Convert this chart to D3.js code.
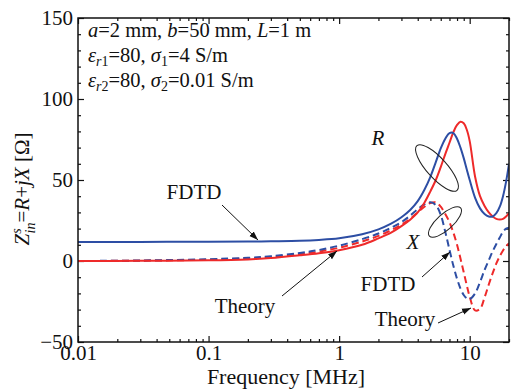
<!DOCTYPE html>
<html>
<head>
<meta charset="utf-8">
<script src="https://cdn.jsdelivr.net/npm/d3@7"></script>
<style>
  body { margin: 0; background: #fff; }
</style>
</head>
<body>
<div id="graph"></div>
<script>
// frequency points [MHz]
var freq = [0.01, 0.03, 0.1, 0.2, 0.3, 0.5, 0.7, 1, 1.5, 2, 2.5, 3, 3.5, 4, 4.5, 5, 5.5, 6, 6.5, 7, 7.5, 8, 8.5, 9, 9.5, 10, 11, 12, 13, 14, 15, 16, 17, 18, 19, 20];

// R and X, FDTD (blue) and theory (red)
var fdtdR = [11.8, 11.8, 11.9, 12.0, 12.2, 12.5, 13.0, 14.0, 16.5, 19.5, 23, 27, 31.5, 37, 44, 52, 61, 69.5, 75.5, 79, 79, 75.5, 70, 63.5, 56.5, 50, 39, 32.5, 29, 27.5, 27.5, 29.5, 33.5, 40, 49, 60];
var theoryR = [0, 0.1, 0.4, 1.0, 1.8, 3.5, 4.8, 6.7, 10, 14, 17.5, 21.5, 25.5, 30, 36, 43, 50, 58, 66, 73, 79.5, 84, 86, 85, 81, 74, 52, 40, 34, 30, 27.5, 26, 25.6, 26, 27.5, 29.5];
var fdtdX = [0, 0.3, 1.1, 2.0, 3.0, 5.0, 6.8, 9.5, 13.5, 17, 20.5, 24, 28, 32, 35, 36.2, 34.5, 28.5, 18, 7, -3, -11, -17, -21, -23, -23.5, -20, -13, -5.5, 0.5, 6, 10.5, 14.5, 18, 20, 20.5];
var theoryX = [0, 0.2, 0.8, 1.6, 2.4, 4.2, 5.8, 8.2, 12, 15.5, 19, 22.5, 26, 30, 33.5, 35.8, 36.2, 33.5, 29, 24, 17.5, 10, 1.5, -7, -15, -22, -30.5, -29.5, -22.5, -14.5, -7.5, -1.5, 3, 6.5, 9, 11];

var xMajor = [0.01, 0.1, 1, 10];
var xMajorLabels = ["0.01", "0.1", "1", "10"];
var yMajor = [-50, 0, 50, 100, 150];

var W = 511, H = 389;
var margin = { top: 18, right: 2, bottom: 47, left: 78 };

var svg = d3.select("#graph").append("svg")
  .attr("width", W).attr("height", H);

var x = d3.scaleLog().domain([0.01, 20]).range([margin.left, W - margin.right]);
var y = d3.scaleLinear().domain([-50, 150]).range([H - margin.bottom, margin.top]);

var blue = "#2d4ea4", red = "#ee2a2a";

// minor ticks
var xMinor = [];
[0.01, 0.1, 1, 10].forEach(function (d) {
  for (var k = 2; k <= 9; k++) if (d * k <= 20) xMinor.push(d * k);
});
var yMinor = d3.range(-50, 151, 10).filter(function (v) { return v % 50 != 0; });

function tickAxis(axis, tr) {
  var g = svg.append("g").attr("transform", tr).call(axis);
  g.attr("font-size", 21);
  g.select(".domain").remove();
  g.selectAll("line").attr("stroke", "#111").attr("stroke-width", 1.2);
  return g;
}

var bY = y(-50), tY = y(150), lX = x(0.01), rX = x(20);

// bottom
tickAxis(d3.axisBottom(x).tickValues(xMajor).tickFormat(function (d, i) { return xMajorLabels[i]; })
  .tickSize(-6).tickSizeOuter(0).tickPadding(3), "translate(0," + bY + ")");
tickAxis(d3.axisBottom(x).tickValues(xMinor).tickFormat("").tickSize(-3).tickSizeOuter(0), "translate(0," + bY + ")");
// top
tickAxis(d3.axisTop(x).tickValues(xMajor).tickFormat("").tickSize(-6).tickSizeOuter(0), "translate(0," + tY + ")");
tickAxis(d3.axisTop(x).tickValues(xMinor).tickFormat("").tickSize(-3).tickSizeOuter(0), "translate(0," + tY + ")");
// left
tickAxis(d3.axisLeft(y).tickValues(yMajor).tickSize(-6).tickSizeOuter(0).tickPadding(5), "translate(" + lX + ",0)");
tickAxis(d3.axisLeft(y).tickValues(yMinor).tickFormat("").tickSize(-3).tickSizeOuter(0), "translate(" + lX + ",0)");
// right
tickAxis(d3.axisRight(y).tickValues(yMajor).tickFormat("").tickSize(-6).tickSizeOuter(0), "translate(" + rX + ",0)");
tickAxis(d3.axisRight(y).tickValues(yMinor).tickFormat("").tickSize(-3).tickSizeOuter(0), "translate(" + rX + ",0)");

// clip for curves
svg.append("clipPath").attr("id", "clip").append("rect")
  .attr("x", lX).attr("y", tY).attr("width", rX - lX).attr("height", bY - tY);

var line = d3.line()
  .x(function (d) { return x(d[0]); })
  .y(function (d) { return y(d[1]); })
  .curve(d3.curveCatmullRom.alpha(0.5));

function series(vals, color, dashed) {
  svg.append("path")
    .datum(freq.map(function (f, i) { return [f, vals[i]]; }))
    .attr("clip-path", "url(#clip)")
    .attr("fill", "none")
    .attr("stroke", color)
    .attr("stroke-width", 2)
    .attr("stroke-dasharray", dashed ? "7,4" : null)
    .attr("d", line);
}
series(theoryX, red, true);
series(fdtdX, blue, true);
series(theoryR, red, false);
series(fdtdR, blue, false);

// frame
svg.append("rect").attr("x", lX).attr("y", tY).attr("width", rX - lX).attr("height", bY - tY)
  .attr("fill", "none").attr("stroke", "#111").attr("stroke-width", 1.5);

// axis titles
svg.append("text").attr("x", 286).attr("y", 384)
  .attr("text-anchor", "middle").attr("font-size", 22).text("Frequency [MHz]");

var yl = svg.append("text").attr("transform", "translate(29,189) rotate(-90)")
  .attr("text-anchor", "middle").attr("font-size", 21);
yl.append("tspan").attr("font-style", "italic").text("Z");
yl.append("tspan").attr("dy", -8).attr("font-size", 14).attr("font-style", "italic").text("s");
yl.append("tspan").attr("dx", -5).attr("dy", 14).attr("font-size", 14).attr("font-style", "italic").text("in");
yl.append("tspan").attr("dy", -6).text("=");
yl.append("tspan").attr("font-style", "italic").text("R");
yl.append("tspan").text("+");
yl.append("tspan").attr("font-style", "italic").text("jX");
yl.append("tspan").text(" [Ω]");

// parameter block
var p1 = svg.append("text").attr("x", 88).attr("y", 37).attr("font-size", 20.5);
p1.append("tspan").attr("font-style", "italic").text("a");
p1.append("tspan").text("=2 mm, ");
p1.append("tspan").attr("font-style", "italic").text("b");
p1.append("tspan").text("=50 mm, ");
p1.append("tspan").attr("font-style", "italic").text("L");
p1.append("tspan").text("=1 m");

function paramLine(yy, sub, sig) {
  var t = svg.append("text").attr("x", 88).attr("y", yy).attr("font-size", 20.5);
  t.append("tspan").attr("font-style", "italic").text("ε");
  t.append("tspan").attr("dy", 4).attr("font-size", 14).attr("font-style", "italic").text("r");
  t.append("tspan").attr("font-size", 14).text(sub);
  t.append("tspan").attr("dy", -4).text("=80, ");
  t.append("tspan").attr("font-style", "italic").text("σ");
  t.append("tspan").attr("dy", 4).attr("font-size", 14).text(sub);
  t.append("tspan").attr("dy", -4).text("=" + sig);
}
paramLine(62, "1", "4 S/m");
paramLine(87, "2", "0.01 S/m");

// annotations
svg.append("defs").append("marker").attr("id", "arr")
  .attr("viewBox", "0 0 10 10").attr("refX", 10).attr("refY", 5)
  .attr("markerWidth", 9).attr("markerHeight", 9).attr("orient", "auto")
  .attr("markerUnits", "userSpaceOnUse")
  .append("path").attr("d", "M0,1.5L10,5L0,8.5z").attr("fill", "#111");

function label(tx, ty, s, italic) {
  svg.append("text").attr("x", tx).attr("y", ty).attr("text-anchor", "middle")
    .attr("font-size", 21).attr("font-style", italic ? "italic" : null).text(s);
}
function arrow(x1, y1, x2, y2) {
  svg.append("line").attr("x1", x1).attr("y1", y1).attr("x2", x2).attr("y2", y2)
    .attr("stroke", "#111").attr("stroke-width", 1).attr("marker-end", "url(#arr)");
}
label(194, 199, "FDTD");
arrow(222, 205, 258, 240);
label(245, 313, "Theory");
arrow(282, 296, 337, 251);
label(388, 291, "FDTD");
arrow(422, 277, 450, 252);
label(405, 326, "Theory");
arrow(438, 323, 471, 308);
label(378, 145, "R", true);
label(413, 249, "X", true);

svg.append("ellipse").attr("cx", 437).attr("cy", 168).attr("rx", 30).attr("ry", 10)
  .attr("transform", "rotate(48,437,168)").attr("fill", "none").attr("stroke", "#222").attr("stroke-width", 1);
svg.append("ellipse").attr("cx", 445).attr("cy", 222).attr("rx", 21).attr("ry", 8)
  .attr("transform", "rotate(-42,445,222)").attr("fill", "none").attr("stroke", "#222").attr("stroke-width", 1);

// Times-like font on every text
svg.selectAll("text").style("font-family", "'Liberation Serif'").style("fill", "#111");
</script>
</body>
</html>
